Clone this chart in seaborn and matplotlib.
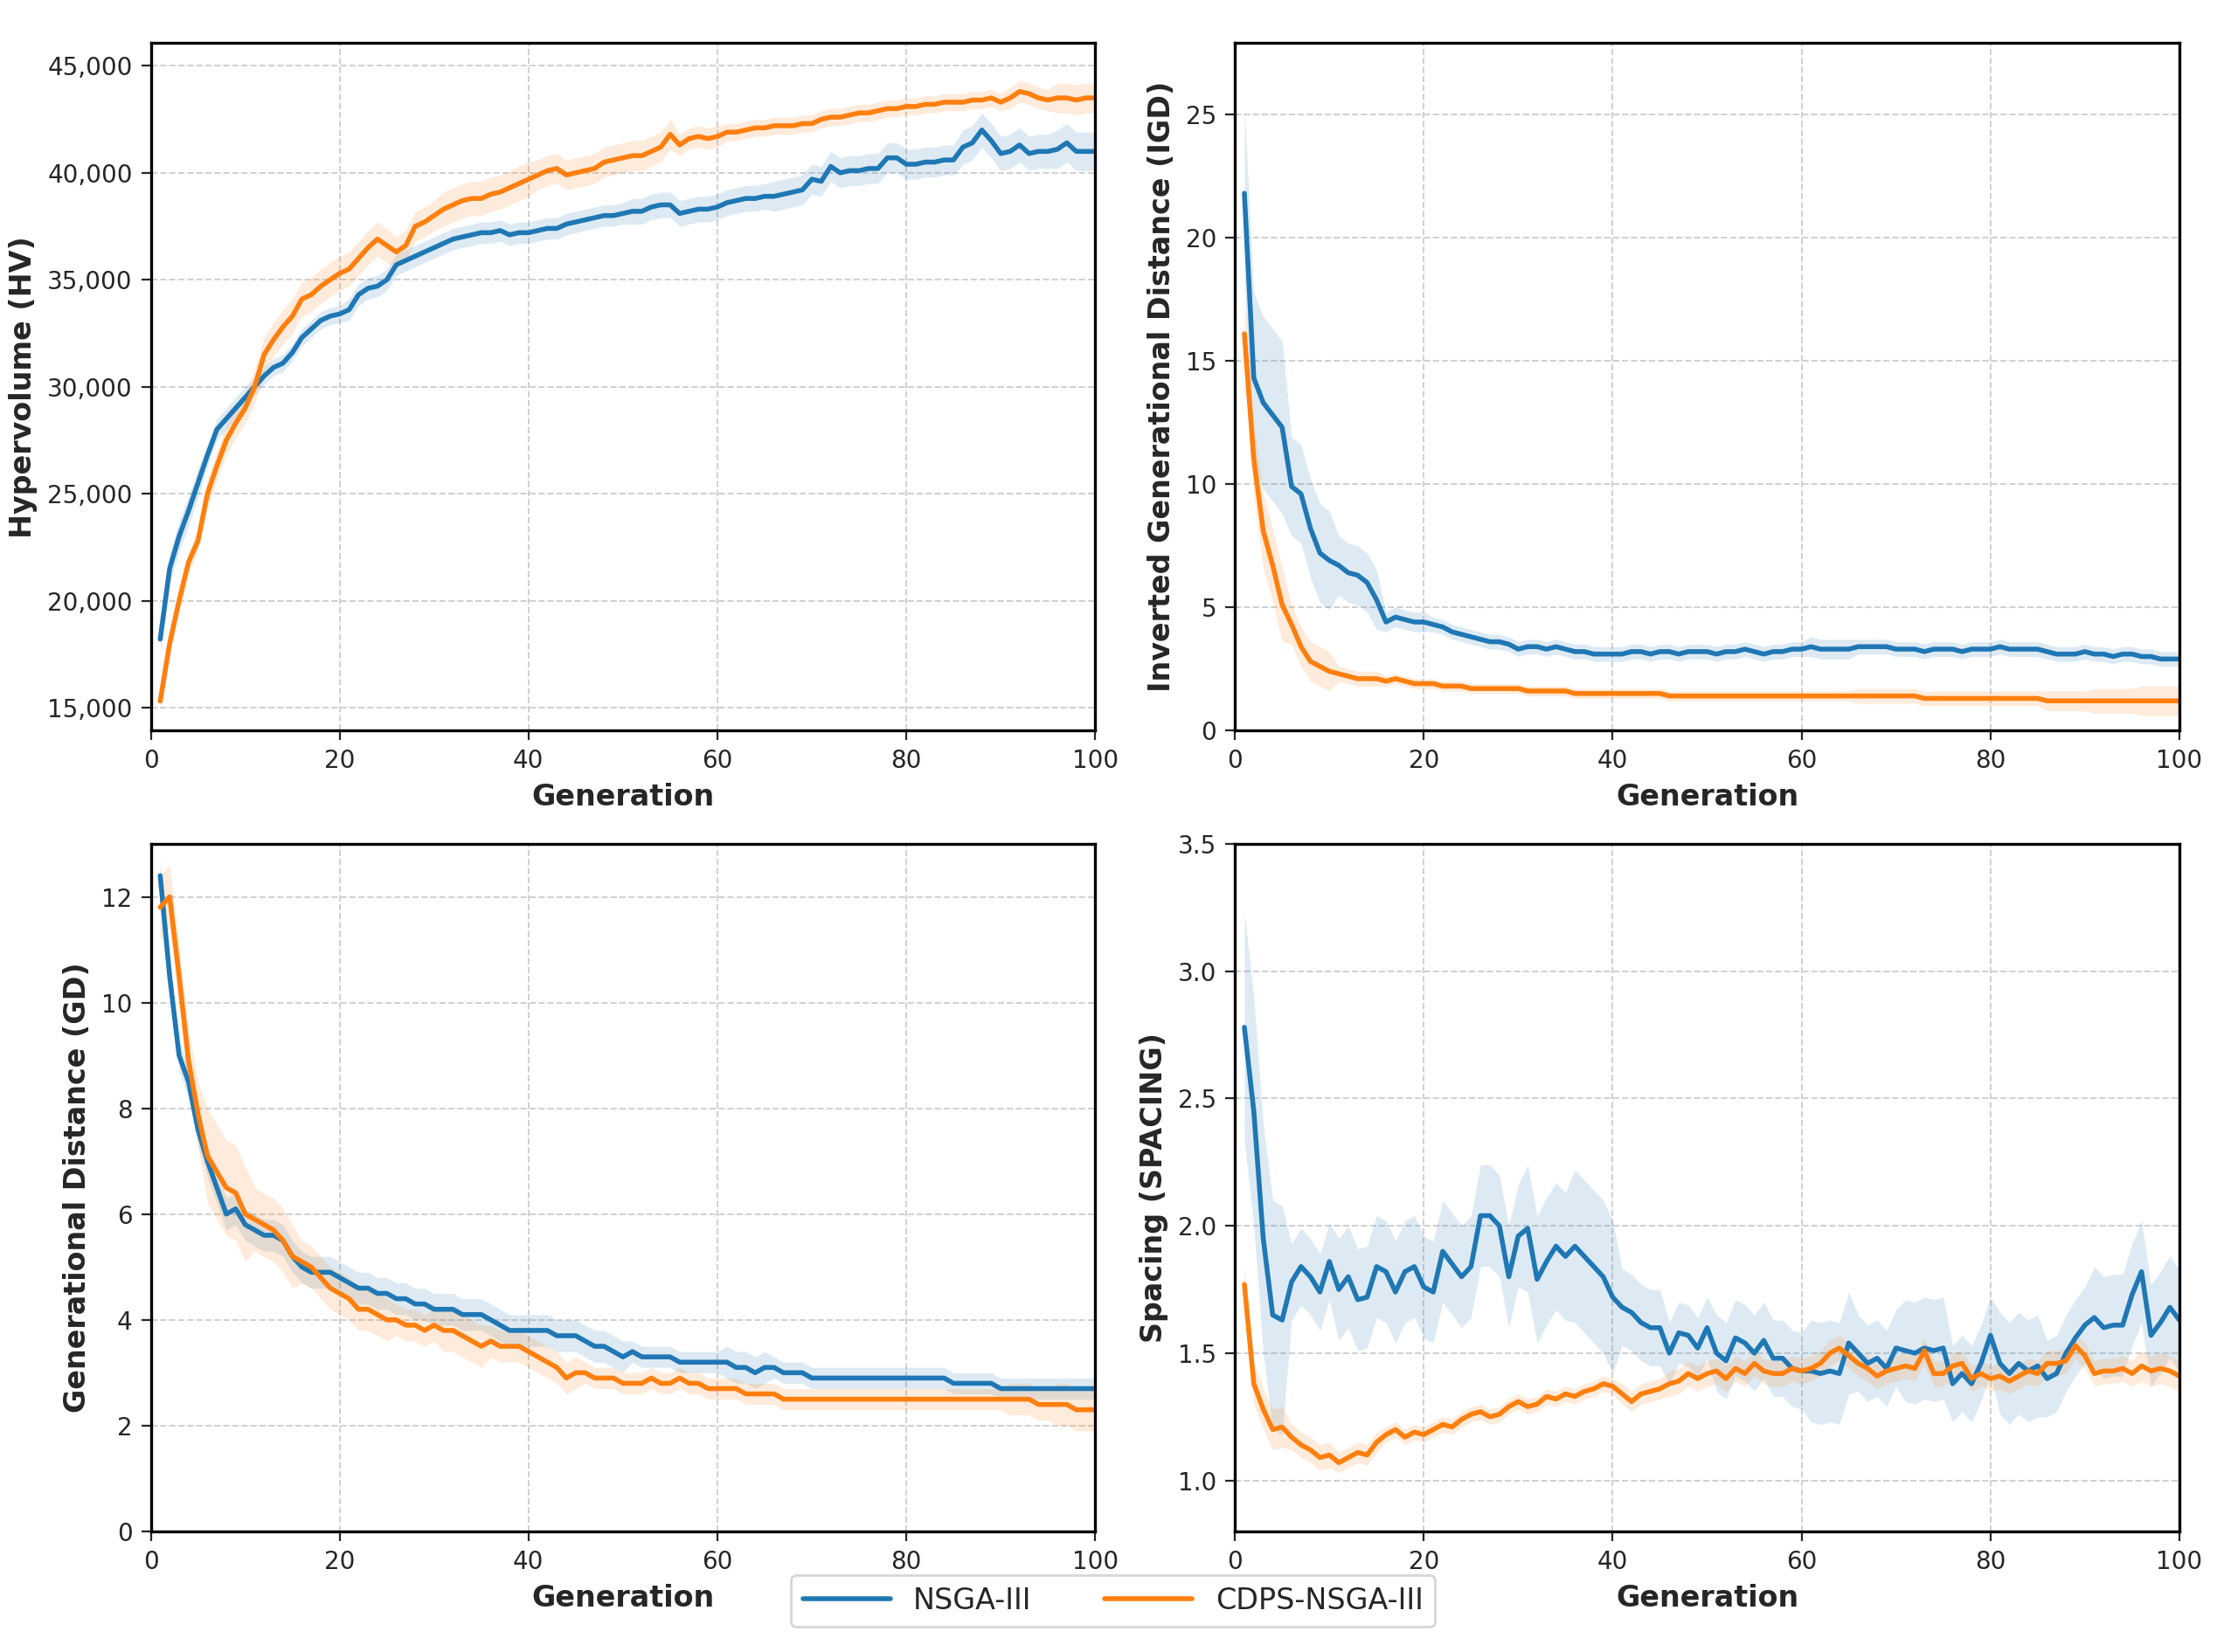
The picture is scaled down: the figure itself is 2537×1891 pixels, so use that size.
import numpy as np
import pandas as pd
import matplotlib
matplotlib.use("Agg")
import matplotlib.pyplot as plt
import seaborn as sns

# ── Data (mean per generation) ─────────────────────────────────
hv_nsga = [18200, 21500, 23000, 24200, 25500, 26800, 28000, 28500, 29000, 29500,
           30000, 30500, 30900, 31100, 31600, 32300, 32700, 33100, 33300, 33400,
           33600, 34300, 34600, 34700, 35000, 35700, 35900, 36100, 36300, 36500,
           36700, 36900, 37000, 37100, 37200, 37200, 37300, 37100, 37200, 37200,
           37300, 37400, 37400, 37600, 37700, 37800, 37900, 38000, 38000, 38100,
           38200, 38200, 38400, 38500, 38500, 38100, 38200, 38300, 38300, 38400,
           38600, 38700, 38800, 38800, 38900, 38900, 39000, 39100, 39200, 39700,
           39600, 40300, 40000, 40100, 40100, 40200, 40200, 40700, 40700, 40400,
           40400, 40500, 40500, 40600, 40600, 41200, 41400, 42000, 41500, 40900,
           41000, 41300, 40900, 41000, 41000, 41100, 41400, 41000, 41000, 41000]
hv_cdps = [15300, 18000, 20000, 21800, 22800, 25000, 26300, 27500, 28300, 29000,
           30000, 31500, 32200, 32800, 33300, 34100, 34300, 34700, 35000, 35300,
           35500, 36000, 36500, 36900, 36600, 36300, 36600, 37500, 37700, 38000,
           38300, 38500, 38700, 38800, 38800, 39000, 39100, 39300, 39500, 39700,
           39900, 40100, 40200, 39900, 40000, 40100, 40200, 40500, 40600, 40700,
           40800, 40800, 41000, 41200, 41800, 41300, 41600, 41700, 41600, 41700,
           41900, 41900, 42000, 42100, 42100, 42200, 42200, 42200, 42300, 42300,
           42500, 42600, 42600, 42700, 42800, 42800, 42900, 43000, 43000, 43100,
           43100, 43200, 43200, 43300, 43300, 43300, 43400, 43400, 43500, 43300,
           43500, 43800, 43700, 43500, 43400, 43500, 43500, 43400, 43500, 43500]

igd_nsga = [21.8, 14.3, 13.3, 12.8, 12.3, 9.9, 9.6, 8.2, 7.2, 6.9,
            6.7, 6.4, 6.3, 6.0, 5.3, 4.4, 4.6, 4.5, 4.4, 4.4,
            4.3, 4.2, 4.0, 3.9, 3.8, 3.7, 3.6, 3.6, 3.5, 3.3,
            3.4, 3.4, 3.3, 3.4, 3.3, 3.2, 3.2, 3.1, 3.1, 3.1,
            3.1, 3.2, 3.2, 3.1, 3.2, 3.2, 3.1, 3.2, 3.2, 3.2,
            3.1, 3.2, 3.2, 3.3, 3.2, 3.1, 3.2, 3.2, 3.3, 3.3,
            3.4, 3.3, 3.3, 3.3, 3.3, 3.4, 3.4, 3.4, 3.4, 3.3,
            3.3, 3.3, 3.2, 3.3, 3.3, 3.3, 3.2, 3.3, 3.3, 3.3,
            3.4, 3.3, 3.3, 3.3, 3.3, 3.2, 3.1, 3.1, 3.1, 3.2,
            3.1, 3.1, 3.0, 3.1, 3.1, 3.0, 3.0, 2.9, 2.9, 2.9]
igd_cdps = [16.1, 11.0, 8.1, 6.7, 5.1, 4.3, 3.4, 2.8, 2.6, 2.4,
            2.3, 2.2, 2.1, 2.1, 2.1, 2.0, 2.1, 2.0, 1.9, 1.9,
            1.9, 1.8, 1.8, 1.8, 1.7, 1.7, 1.7, 1.7, 1.7, 1.7,
            1.6, 1.6, 1.6, 1.6, 1.6, 1.5, 1.5, 1.5, 1.5, 1.5,
            1.5, 1.5, 1.5, 1.5, 1.5, 1.4, 1.4, 1.4, 1.4, 1.4,
            1.4, 1.4, 1.4, 1.4, 1.4, 1.4, 1.4, 1.4, 1.4, 1.4,
            1.4, 1.4, 1.4, 1.4, 1.4, 1.4, 1.4, 1.4, 1.4, 1.4,
            1.4, 1.4, 1.3, 1.3, 1.3, 1.3, 1.3, 1.3, 1.3, 1.3,
            1.3, 1.3, 1.3, 1.3, 1.3, 1.2, 1.2, 1.2, 1.2, 1.2,
            1.2, 1.2, 1.2, 1.2, 1.2, 1.2, 1.2, 1.2, 1.2, 1.2]

gd_nsga = [12.4, 10.5, 9.0, 8.5, 7.6, 7.0, 6.5, 6.0, 6.1, 5.8,
           5.7, 5.6, 5.6, 5.5, 5.2, 5.0, 4.9, 4.9, 4.9, 4.8,
           4.7, 4.6, 4.6, 4.5, 4.5, 4.4, 4.4, 4.3, 4.3, 4.2,
           4.2, 4.2, 4.1, 4.1, 4.1, 4.0, 3.9, 3.8, 3.8, 3.8,
           3.8, 3.8, 3.7, 3.7, 3.7, 3.6, 3.5, 3.5, 3.4, 3.3,
           3.4, 3.3, 3.3, 3.3, 3.3, 3.2, 3.2, 3.2, 3.2, 3.2,
           3.2, 3.1, 3.1, 3.0, 3.1, 3.1, 3.0, 3.0, 3.0, 2.9,
           2.9, 2.9, 2.9, 2.9, 2.9, 2.9, 2.9, 2.9, 2.9, 2.9,
           2.9, 2.9, 2.9, 2.9, 2.8, 2.8, 2.8, 2.8, 2.8, 2.7,
           2.7, 2.7, 2.7, 2.7, 2.7, 2.7, 2.7, 2.7, 2.7, 2.7]
gd_cdps = [11.8, 12.0, 10.5, 8.9, 7.9, 7.1, 6.8, 6.5, 6.4, 6.0,
           5.9, 5.8, 5.7, 5.5, 5.2, 5.1, 5.0, 4.8, 4.6, 4.5,
           4.4, 4.2, 4.2, 4.1, 4.0, 4.0, 3.9, 3.9, 3.8, 3.9,
           3.8, 3.8, 3.7, 3.6, 3.5, 3.6, 3.5, 3.5, 3.5, 3.4,
           3.3, 3.2, 3.1, 2.9, 3.0, 3.0, 2.9, 2.9, 2.9, 2.8,
           2.8, 2.8, 2.9, 2.8, 2.8, 2.9, 2.8, 2.8, 2.7, 2.7,
           2.7, 2.7, 2.6, 2.6, 2.6, 2.6, 2.5, 2.5, 2.5, 2.5,
           2.5, 2.5, 2.5, 2.5, 2.5, 2.5, 2.5, 2.5, 2.5, 2.5,
           2.5, 2.5, 2.5, 2.5, 2.5, 2.5, 2.5, 2.5, 2.5, 2.5,
           2.5, 2.5, 2.5, 2.4, 2.4, 2.4, 2.4, 2.3, 2.3, 2.3]

sp_nsga = [2.78, 2.45, 1.95, 1.65, 1.63, 1.78, 1.84, 1.80, 1.74, 1.86,
           1.75, 1.80, 1.71, 1.72, 1.84, 1.82, 1.74, 1.82, 1.84, 1.76,
           1.74, 1.90, 1.85, 1.80, 1.84, 2.04, 2.04, 2.00, 1.80, 1.96,
           1.99, 1.79, 1.86, 1.92, 1.88, 1.92, 1.88, 1.84, 1.80, 1.72,
           1.68, 1.66, 1.62, 1.60, 1.60, 1.50, 1.58, 1.57, 1.52, 1.60,
           1.50, 1.47, 1.56, 1.54, 1.50, 1.55, 1.48, 1.48, 1.44, 1.43,
           1.43, 1.42, 1.43, 1.42, 1.54, 1.50, 1.46, 1.48, 1.44, 1.52,
           1.51, 1.50, 1.52, 1.51, 1.52, 1.38, 1.42, 1.38, 1.46, 1.57,
           1.46, 1.42, 1.46, 1.43, 1.45, 1.40, 1.42, 1.50, 1.56, 1.61,
           1.64, 1.60, 1.61, 1.61, 1.73, 1.82, 1.57, 1.62, 1.68, 1.63]
sp_cdps = [1.77, 1.38, 1.28, 1.20, 1.21, 1.17, 1.14, 1.12, 1.09, 1.10,
           1.07, 1.09, 1.11, 1.10, 1.15, 1.18, 1.20, 1.17, 1.19, 1.18,
           1.20, 1.22, 1.21, 1.24, 1.26, 1.27, 1.25, 1.26, 1.29, 1.31,
           1.29, 1.30, 1.33, 1.32, 1.34, 1.33, 1.35, 1.36, 1.38, 1.37,
           1.34, 1.31, 1.34, 1.35, 1.36, 1.38, 1.39, 1.42, 1.40, 1.42,
           1.43, 1.40, 1.44, 1.42, 1.46, 1.43, 1.42, 1.42, 1.44, 1.43,
           1.44, 1.46, 1.50, 1.52, 1.49, 1.46, 1.44, 1.41, 1.43, 1.44,
           1.45, 1.44, 1.51, 1.42, 1.42, 1.45, 1.46, 1.40, 1.42, 1.40,
           1.41, 1.39, 1.41, 1.43, 1.42, 1.46, 1.46, 1.47, 1.53, 1.49,
           1.42, 1.43, 1.43, 1.44, 1.42, 1.45, 1.43, 1.44, 1.43, 1.41]

# band half-widths, one value per block of 5 generations
hv_nsga_bw = [700, 500, 400, 400, 500, 500, 500, 500, 500, 500,
              600, 600, 600, 700, 700, 700, 700, 800, 800, 900]
hv_cdps_bw = [500, 700, 800, 800, 800, 700, 800, 800, 700, 700,
              700, 500, 400, 400, 400, 400, 400, 400, 500, 700]
igd_nsga_bw = [3.5, 2.0, 1.2, 0.4, 0.3, 0.3, 0.3, 0.3, 0.3, 0.3,
               0.3, 0.3, 0.4, 0.3, 0.3, 0.3, 0.3, 0.3, 0.3, 0.3]
igd_cdps_bw = [1.5, 0.8, 0.3, 0.2, 0.2, 0.2, 0.2, 0.2, 0.2, 0.2,
               0.2, 0.2, 0.2, 0.3, 0.3, 0.3, 0.3, 0.4, 0.5, 0.6]
gd_nsga_bw = [0.3, 0.3, 0.3, 0.3, 0.3, 0.3, 0.3, 0.3, 0.3, 0.3,
              0.2, 0.2, 0.3, 0.2, 0.2, 0.2, 0.2, 0.2, 0.2, 0.2]
gd_cdps_bw = [0.6, 0.9, 0.6, 0.4, 0.4, 0.3, 0.4, 0.3, 0.3, 0.2,
              0.2, 0.2, 0.2, 0.2, 0.2, 0.2, 0.2, 0.2, 0.3, 0.4]
sp_nsga_bw = [0.45, 0.15, 0.2, 0.2, 0.2, 0.2, 0.25, 0.3, 0.15, 0.12,
              0.15, 0.15, 0.2, 0.15, 0.2, 0.15, 0.2, 0.15, 0.2, 0.2]
sp_cdps_bw = [0.08, 0.05, 0.04, 0.03, 0.03, 0.03, 0.03, 0.03, 0.04, 0.05,
              0.05, 0.05, 0.05, 0.05, 0.05, 0.05, 0.05, 0.05, 0.05, 0.06]

ALGOS = ["NSGA-III", "CDPS-NSGA-III"]
COLORS = {"NSGA-III": "#1f77b4", "CDPS-NSGA-III": "#ff7f0e"}

PANELS = [
    ("Hypervolume (HV)", hv_nsga, hv_cdps, hv_nsga_bw, hv_cdps_bw, (13930, 46070), [15000, 20000, 25000, 30000, 35000, 40000, 45000], True),
    ("Inverted Generational Distance (IGD)", igd_nsga, igd_cdps, igd_nsga_bw, igd_cdps_bw, (0, 27.9), [0, 5, 10, 15, 20, 25], False),
    ("Generational Distance (GD)", gd_nsga, gd_cdps, gd_nsga_bw, gd_cdps_bw, (0, 13.0), [0, 2, 4, 6, 8, 10, 12], False),
    ("Spacing (SPACING)", sp_nsga, sp_cdps, sp_nsga_bw, sp_cdps_bw, (0.8, 3.5), [1.0, 1.5, 2.0, 2.5, 3.0, 3.5], False),
]

sns.set_style("white")
plt.rcParams["font.family"] = ["DejaVu Sans"]

fig, axes = plt.subplots(2, 2, figsize=(12.685, 9.455), dpi=200)
fig.subplots_adjust(left=0.068, right=0.983, top=0.974, bottom=0.073,
                    wspace=0.148, hspace=0.165)

handles = None
for ax, (ylabel, m1, m2, b1, b2, ylim, yticks, comma) in zip(axes.flat, PANELS):
    rows = []
    for algo, mean, bw in [(ALGOS[0], m1, b1), (ALGOS[1], m2, b2)]:
        gens = np.arange(1, len(mean) + 1)
        half = np.repeat(bw, 5)[:len(mean)]
        ax.fill_between(gens, np.array(mean) - half, np.array(mean) + half,
                        color=COLORS[algo], alpha=0.15, linewidth=0)
        rows.append(pd.DataFrame({"Generation": gens, "value": mean, "algo": algo}))
    df = pd.concat(rows)
    sns.lineplot(data=df, x="Generation", y="value", hue="algo", hue_order=ALGOS,
                 palette=COLORS, linewidth=2, ax=ax)
    if handles is None:
        handles, labels = ax.get_legend_handles_labels()
    ax.get_legend().remove()
    ax.set_xlim(0, 100)
    ax.set_ylim(*ylim)
    ax.set_yticks(yticks)
    if comma:
        ax.yaxis.set_major_formatter(matplotlib.ticker.StrMethodFormatter("{x:,.0f}"))
    ax.set_xticks([0, 20, 40, 60, 80, 100])
    ax.grid(True, linestyle="--", color="#d0d0d0", linewidth=0.7)
    ax.set_axisbelow(True)
    ax.set_xlabel("Generation", fontsize=12, fontweight="bold")
    ax.set_ylabel(ylabel, fontsize=12, fontweight="bold")
    ax.tick_params(labelsize=10, length=4, direction="out", bottom=True, left=True)
    for s in ax.spines.values():
        s.set_color("black")
        s.set_linewidth(1.2)

fig.legend(handles, labels, loc="center", bbox_to_anchor=(0.502, 0.031),
           ncol=2, fontsize=12, frameon=True, handlelength=3, columnspacing=2.5)
fig.savefig("out.png", dpi=200)
